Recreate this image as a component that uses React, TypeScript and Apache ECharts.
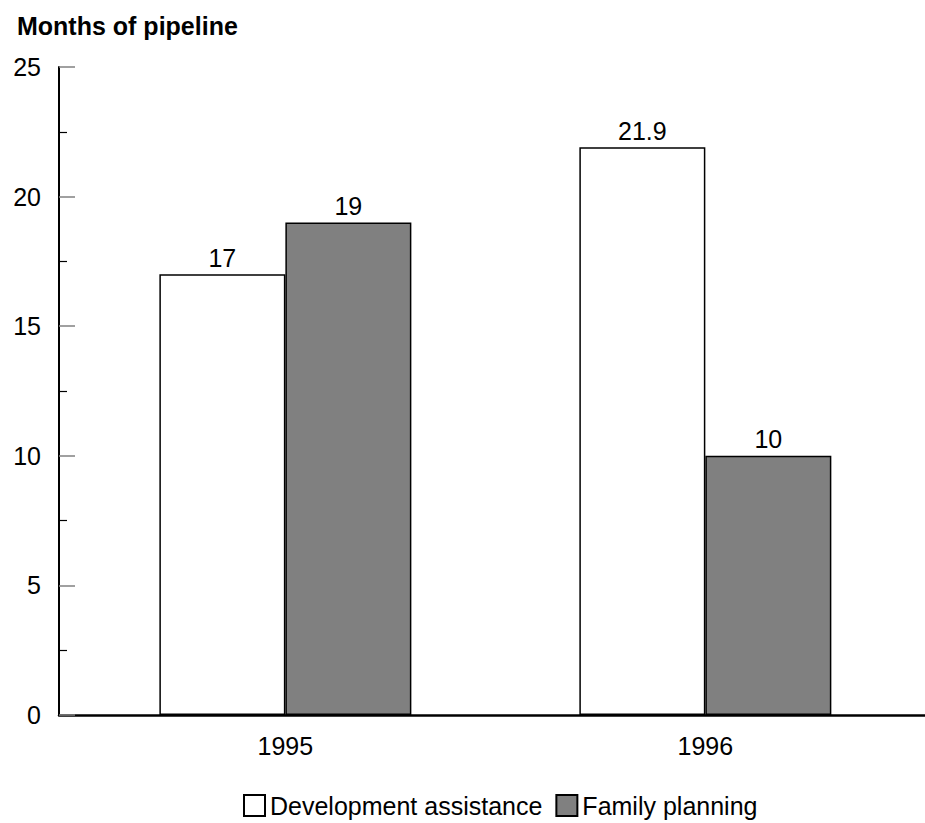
import React, { useEffect, useRef } from "react";
import * as echarts from "echarts";

const categories = ["1995", "1996"];
const developmentAssistance = [17, 21.9];
const familyPlanning = [19, 10];
const seriesNames = ["Development assistance", "Family planning"];
const yTicks = [0, 5, 10, 15, 20, 25];

const FONT = "'Liberation Sans', Arial, Helvetica, sans-serif";

export default function App() {
  const ref = useRef<HTMLDivElement>(null);
  useEffect(() => {
    document.body.style.margin = "0";
    if (!ref.current) return;
    const chart = echarts.init(ref.current, undefined, { renderer: "svg" });
    const labelStyle = {
      show: true,
      position: "top" as const,
      distance: 4,
      color: "#000",
      fontSize: 25,
      fontFamily: FONT,
    };
    chart.setOption({
      animation: false,
      backgroundColor: "#fff",
      title: {
        text: "Months of pipeline",
        left: 12,
        top: 8,
        textStyle: { fontSize: 25, fontWeight: "bold", color: "#000", fontFamily: FONT },
      },
      legend: {
        left: 238,
        top: 788,
        icon: "rect",
        itemWidth: 21,
        itemHeight: 21,
        itemGap: 13,
        data: seriesNames,
        textStyle: { fontSize: 25, color: "#000", fontFamily: FONT },
      },
      grid: { left: 59, right: 0, top: 67, bottom: 108, containLabel: false },
      xAxis: {
        type: "value",
        min: -0.539,
        max: 1.523,
        splitLine: { show: false },
        axisTick: { show: false },
        axisLine: { show: true, onZero: false, lineStyle: { color: "#000", width: 2.5 } },
        axisLabel: {
          customValues: [0, 1],
          formatter: (v: number) => categories[Math.round(v)] ?? "",
          margin: 18,
          fontSize: 25,
          color: "#000",
          fontFamily: FONT,
        },
      },
      yAxis: {
        type: "value",
        min: yTicks[0],
        max: yTicks[yTicks.length - 1],
        interval: 5,
        splitLine: { show: false },
        axisLine: { show: true, onZero: false, lineStyle: { color: "#000", width: 2 } },
        axisTick: { show: true, inside: true, length: 16, lineStyle: { color: "#808080", width: 1.5 } },
        minorTick: { show: true, splitNumber: 2, length: 8, lineStyle: { color: "#000", width: 1.2 } },
        axisLabel: { margin: 18, fontSize: 25, color: "#000", fontFamily: FONT },
      },
      series: [
        {
          name: seriesNames[0],
          type: "bar",
          barWidth: 126,
          barGap: "0%",
          data: developmentAssistance.map((v, i) => [i, v]),
          itemStyle: { color: "#fff", borderColor: "#000", borderWidth: 1.5 },
          label: labelStyle,
        },
        {
          name: seriesNames[1],
          type: "bar",
          barWidth: 126,
          barGap: "0%",
          data: familyPlanning.map((v, i) => [i, v]),
          itemStyle: { color: "#808080", borderColor: "#000", borderWidth: 1.5 },
          label: labelStyle,
        },
      ],
    });
    return () => chart.dispose();
  }, []);
  return <div ref={ref} style={{ width: 925, height: 823 }} />;
}
